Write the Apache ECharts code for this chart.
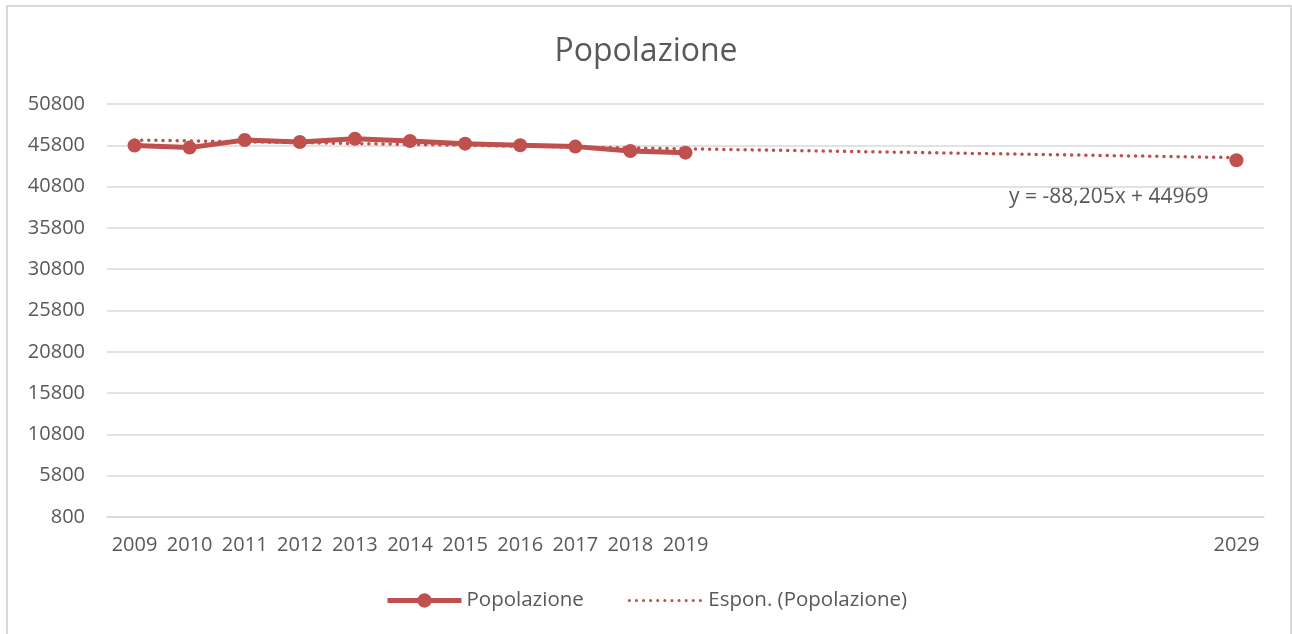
<!DOCTYPE html>
<html>
<head>
<meta charset="utf-8">
<script src="https://cdn.jsdelivr.net/npm/echarts@6/dist/echarts.min.js"></script>
<style>
html,body{margin:0;padding:0;background:#fff;}
#c{width:1292px;height:634px;}
</style>
</head>
<body>
<div id="c"></div>
<script>
// Categories (2009..2029; only some labelled)
const years = ['2009','2010','2011','2012','2013','2014','2015','2016','2017','2018','2019',
  '2020','2021','2022','2023','2024','2025','2026','2027','2028','2029'];
const shownYears = ['2009','2010','2011','2012','2013','2014','2015','2016','2017','2018','2019','2029'];
// Popolazione values
const popolazione = [45780, 45520, 46450, 46200, 46600, 46320, 46000, 45800, 45640, 45110, 44910];
const popolazione2029 = 43990;
// Trendline endpoints (2009 and 2029)
const trendStart = 46440;
const trendEnd = 44310;
const yTicks = [800, 5800, 10800, 15800, 20800, 25800, 30800, 35800, 40800, 45800, 50800];
const equation = 'y = -88,205x + 44969';

const lineData = years.map((y, i) => i < popolazione.length ? popolazione[i] : (y === '2029' ? popolazione2029 : null));
const trendData = years.map((y, i) => i === 0 ? trendStart : (i === years.length - 1 ? trendEnd : null));

const FONT = '"Open Sans", sans-serif';
const TXT = '#595959';
const RED = '#C0504D';
const GRID = '#D9D9D9';

const chart = echarts.init(document.getElementById('c'));
chart.setOption({
  animation: false,
  backgroundColor: '#fff',
  title: {
    text: 'Popolazione',
    left: 'center',
    top: 31,
    textStyle: {fontFamily: FONT, fontSize: 32, fontWeight: 'normal', color: TXT}
  },
  grid: {left: 107, right: 28, top: 104, bottom: 117, containLabel: false},
  xAxis: {
    type: 'category',
    data: years,
    boundaryGap: true,
    axisLine: {show: true, lineStyle: {color: GRID, width: 1.5}},
    axisTick: {show: false},
    axisLabel: {
      interval: 0,
      margin: 18,
      fontFamily: FONT, fontSize: 20, color: TXT,
      formatter: v => shownYears.includes(v) ? v : ''
    },
    splitLine: {show: false}
  },
  yAxis: {
    type: 'value',
    min: yTicks[0],
    max: yTicks[yTicks.length - 1],
    interval: 5000,
    axisLine: {show: false},
    axisTick: {show: false},
    axisLabel: {margin: 22, fontFamily: FONT, fontSize: 20, color: TXT, formatter: v => String(v)},
    splitLine: {lineStyle: {color: GRID, width: 1.5}}
  },
  legend: {
    bottom: 18,
    left: 'center',
    itemWidth: 74,
    itemHeight: 18,
    itemGap: 44,
    textStyle: {fontFamily: FONT, fontSize: 20.5, color: TXT},
    data: [
      {name: 'Popolazione', lineStyle: {width: 5}},
      {name: 'Espon. (Popolazione)', itemStyle: {opacity: 0}, lineStyle: {width: 3}}
    ]
  },
  series: [
    {
      name: 'Popolazione',
      type: 'line',
      data: lineData,
      connectNulls: false,
      symbol: 'circle',
      symbolSize: 14,
      showSymbol: true,
      itemStyle: {color: RED},
      lineStyle: {color: RED, width: 5},
      z: 3
    },
    {
      name: 'Espon. (Popolazione)',
      type: 'line',
      data: trendData,
      connectNulls: true,
      symbol: 'none',
      itemStyle: {color: RED},
      lineStyle: {color: RED, width: 3.5, type: [0.1, 7], cap: 'round'},
      z: 2
    }
  ],
  graphic: [
    {
      type: 'rect',
      shape: {x: 7, y: 6, width: 1284, height: 640},
      style: {fill: 'none', stroke: GRID, lineWidth: 2},
      silent: true
    },
    {
      type: 'text',
      left: 1009,
      top: 187,
      style: {text: equation, font: '21px "Open Sans", sans-serif', fill: TXT}
    }
  ]
});
</script>
</body>
</html>
